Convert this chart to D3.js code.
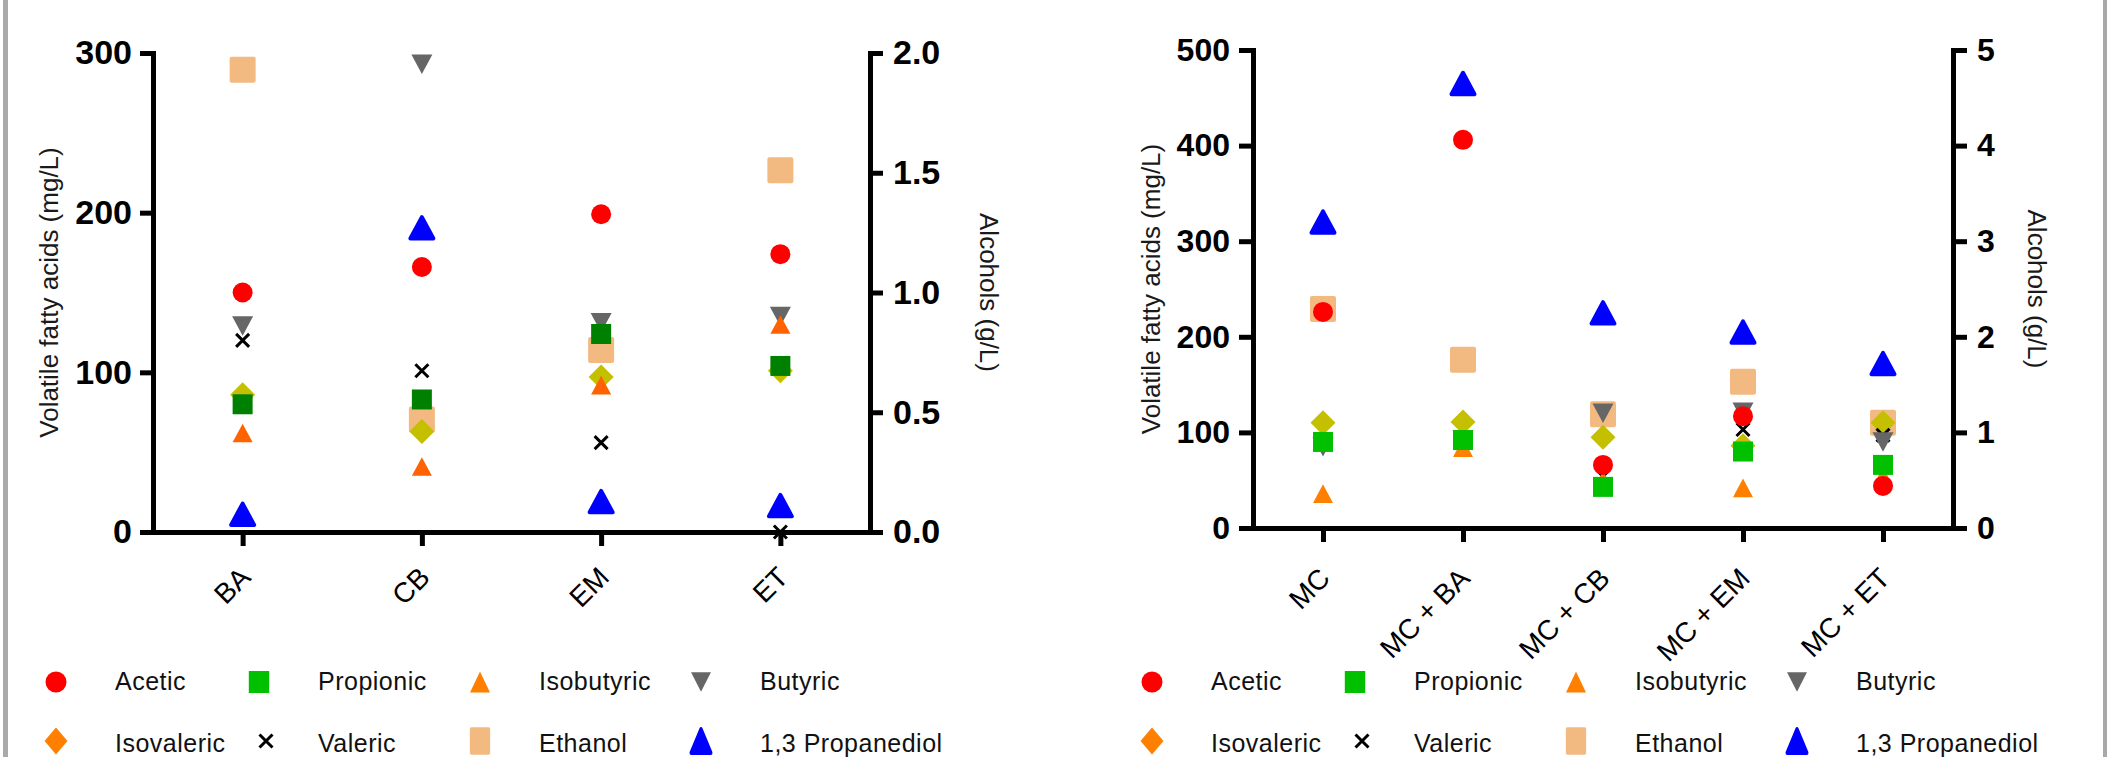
<!DOCTYPE html>
<html>
<head>
<meta charset="utf-8">
<script src="https://cdn.jsdelivr.net/npm/d3@7"></script>
<style>
  body { margin: 0; background: #fff; }
  svg { display: block; font-family: "Liberation Sans", Arial, sans-serif; }
</style>
</head>
<body>
<svg id="chart"></svg>
<script>
const width = 2107;
const height = 757;

// legend order
const seriesNames = ["Acetic", "Propionic", "Isobutyric", "Butyric",
  "Isovaleric", "Valeric", "Ethanol", "1,3 Propanediol"];
// which series go on the right (alcohol) axis
const alcoholSeries = ["Ethanol", "1,3 Propanediol"];
// paint order, bottom to top
const drawOrder = ["Ethanol", "1,3 Propanediol", "Isovaleric", "Valeric",
  "Butyric", "Isobutyric", "Propionic", "Acetic"];

// ---- left panel: single cultures ----
const catsA = ["BA", "CB", "EM", "ET"];
const aceticA = [150, 166, 199, 174];
const propionicA = [80, 83, 124, 104];
const isobutyricA = [62, 41, 92, 130];
const butyricA = [129, 293, 131, 135];
const isovalericA = [86, 63, 97, 101];
const valericA = [120, 101, 56, 0];
const ethanolA = [1.93, 0.47, 0.76, 1.51]; // g/L
const propanediolA = [0.074, 1.27, 0.127, 0.11]; // g/L
const vfaTicksA = [0, 100, 200, 300];
const alcTicksA = [0, 0.5, 1.0, 1.5, 2.0];

// ---- right panel: co-cultures ----
const catsB = ["MC", "MC + BA", "MC + CB", "MC + EM", "MC + ET"];
const aceticB = [226, 406, 66, 117, 44];
const propionicB = [90, 92, 43, 80, 66];
const isobutyricB = [36, 84, 50, 42, 54];
const butyricB = [85, 92, 120, 121, 90];
const isovalericB = [110, 111, 95, 86, 110];
const valericB = [92, 90, 54, 103, 97];
const ethanolB = [2.29, 1.76, 1.19, 1.53, 1.1]; // g/L
const propanediolB = [3.2, 4.65, 2.25, 2.05, 1.72]; // g/L
const vfaTicksB = [0, 100, 200, 300, 400, 500];
const alcTicksB = [0, 1, 2, 3, 4, 5];

const yTitle = "Volatile fatty acids (mg/L)";
const y2Title = "Alcohols (g/L)";

// marker looks
const colorsA = { "Acetic": "#ff0000", "Propionic": "#008000", "Isobutyric": "#ff6200",
  "Butyric": "#666666", "Isovaleric": "#c4c000", "Valeric": "#000000",
  "Ethanol": "#f2b980", "1,3 Propanediol": "#0000ff" };
const colorsB = Object.assign({}, colorsA, { "Propionic": "#00c000", "Isobutyric": "#ff8000" });
const colorsLegend = Object.assign({}, colorsB, { "Isovaleric": "#ff8000" });

const markerStyle = {
  "Acetic": { shape: "circle", size: 20 },
  "Propionic": { shape: "square", size: 20 },
  "Isobutyric": { shape: "triUp", size: 20 },
  "Butyric": { shape: "triDown", size: 21 },
  "Isovaleric": { shape: "diamond", size: 25 },
  "Valeric": { shape: "cross", size: 13 },
  "Ethanol": { shape: "square", size: 22, round: 4 },
  "1,3 Propanediol": { shape: "triUp", size: 23, round: 4 }
};
// legend keys are drawn a little taller than the plotted ones
const legendStretch = {
  "Acetic": [1.05, 1.05], "Propionic": [1.02, 1.1], "Isobutyric": [1, 1.12],
  "Butyric": [0.95, 1.0], "Isovaleric": [0.92, 1.08], "Valeric": [1, 1],
  "Ethanol": [0.78, 1.05], "1,3 Propanediol": [0.85, 1.1]
};

const shapes = {
  circle: { draw(c, s) { c.moveTo(s / 2, 0); c.arc(0, 0, s / 2, 0, 2 * Math.PI); } },
  square: { draw(c, s) { c.rect(-s / 2, -s / 2, s, s); } },
  triUp: { draw(c, s) { const h = s * 0.93; c.moveTo(0, -h / 2); c.lineTo(s / 2, h / 2); c.lineTo(-s / 2, h / 2); c.closePath(); } },
  triDown: { draw(c, s) { const h = s * 0.93; c.moveTo(0, h / 2); c.lineTo(s / 2, -h / 2); c.lineTo(-s / 2, -h / 2); c.closePath(); } },
  diamond: { draw(c, s) { c.moveTo(0, -s / 2); c.lineTo(s / 2, 0); c.lineTo(0, s / 2); c.lineTo(-s / 2, 0); c.closePath(); } },
  cross: { draw(c, s) { c.moveTo(-s / 2, -s / 2); c.lineTo(s / 2, s / 2); c.moveTo(s / 2, -s / 2); c.lineTo(-s / 2, s / 2); } }
};

const svg = d3.select("#chart").attr("width", width).attr("height", height);
svg.append("rect").attr("width", width).attr("height", height).attr("fill", "#fff");
// grey frame edges
svg.append("rect").attr("x", 3).attr("y", 0).attr("width", 5).attr("height", height).attr("fill", "#a9a9a9");
svg.append("rect").attr("x", 2103).attr("y", 0).attr("width", 4).attr("height", height).attr("fill", "#a9a9a9");

const addMarker = (g, name, color, cx, cy, legend) => {
  const st = markerStyle[name];
  const k = legend ? legendStretch[name] : [1, 1];
  const p = g.append("path")
    .attr("d", d3.symbol(shapes[st.shape], st.size)())
    .attr("transform", `translate(${cx},${cy}) scale(${k[0]},${k[1]})`);
  if (st.shape === "cross") {
    p.attr("fill", "none").attr("stroke", color).attr("stroke-width", 3);
  } else {
    p.attr("fill", color);
    if (st.round) p.attr("stroke", color).attr("stroke-width", st.round).attr("stroke-linejoin", "round");
  }
};

const styleAxis = (g, fontSize) => {
  g.select(".domain").attr("stroke", "#000").attr("stroke-width", 5).attr("stroke-linecap", "square");
  g.selectAll(".tick line").attr("stroke", "#000").attr("stroke-width", 5);
  g.selectAll(".tick text").attr("fill", "#000").style("font-size", fontSize + "px")
    .style("font-weight", "bold").style("font-family", "'Liberation Sans', Arial, sans-serif");
};

const drawPanel = (cfg) => {
  const x = d3.scalePoint().domain(cfg.cats).range([cfg.left, cfg.right]).padding(0.5);
  const yV = d3.scaleLinear().domain([0, d3.max(cfg.vTicks)]).range([cfg.bottom, cfg.top]);
  const yA = d3.scaleLinear().domain([0, d3.max(cfg.aTicks)]).range([cfg.bottom, cfg.top]);

  // bottom axis
  const xAxisG = svg.append("g").attr("transform", `translate(0,${cfg.bottom})`)
    .call(d3.axisBottom(x).tickSize(14).tickSizeOuter(0));
  styleAxis(xAxisG, 28);
  xAxisG.selectAll(".tick text")
    .attr("x", 0).attr("y", 0).attr("dy", 0)
    .attr("text-anchor", "end")
    .style("font-weight", "normal")
    .attr("transform", `translate(${cfg.labDx},${cfg.labDy}) rotate(-45)`);

  // left VFA axis
  const yAxisG = svg.append("g").attr("transform", `translate(${cfg.left},0)`)
    .call(d3.axisLeft(yV).tickValues(cfg.vTicks).tickSize(cfg.tickLen).tickSizeOuter(0).tickPadding(cfg.padL));
  styleAxis(yAxisG, cfg.tickFont);

  // right alcohol axis
  const y2AxisG = svg.append("g").attr("transform", `translate(${cfg.right},0)`)
    .call(d3.axisRight(yA).tickValues(cfg.aTicks).tickFormat(cfg.aFmt)
      .tickSize(cfg.tickLen).tickSizeOuter(0).tickPadding(10));
  styleAxis(y2AxisG, cfg.tickFont);

  const midY = (cfg.top + cfg.bottom) / 2;
  svg.append("text")
    .attr("transform", `translate(${cfg.vTitleX},${midY}) rotate(-90)`)
    .attr("text-anchor", "middle").attr("fill", "#1a1a1a")
    .style("font-size", "26px").text(yTitle);
  svg.append("text")
    .attr("transform", `translate(${cfg.aTitleX},${midY}) rotate(90)`)
    .attr("text-anchor", "middle").attr("fill", "#1a1a1a")
    .style("font-size", "26px").text(y2Title);

  // points
  const pts = svg.append("g");
  drawOrder.forEach((name) => {
    const vals = cfg.series[name];
    const sc = alcoholSeries.includes(name) ? yA : yV;
    cfg.cats.forEach((c, i) => {
      addMarker(pts, name, cfg.colors[name], x(c), sc(vals[i]), false);
    });
  });

  // legend
  const cols = [0, 203, 424, 645];
  const rowsY = [682, 741];
  const textY = [690, 752];
  const lg = svg.append("g");
  seriesNames.forEach((name, i) => {
    const col = i % 4, row = Math.floor(i / 4);
    const mx = cfg.legendX + cols[col] + (name === "Valeric" ? 7 : 0);
    addMarker(lg, name, colorsLegend[name], mx, rowsY[row], true);
    lg.append("text")
      .attr("x", cfg.legendX + cols[col] + 59)
      .attr("y", textY[row])
      .attr("fill", "#111")
      .style("font-size", "25px")
      .style("letter-spacing", "0.5px")
      .text(name);
  });
};

drawPanel({
  cats: catsA, left: 153, right: 870, top: 53, bottom: 532,
  vTicks: vfaTicksA, aTicks: alcTicksA, aFmt: d3.format(".1f"),
  tickLen: 13, padL: 8, tickFont: 34,
  labDx: 9, labDy: 47,
  vTitleX: 58, aTitleX: 980,
  colors: colorsA, legendX: 56,
  series: { "Acetic": aceticA, "Propionic": propionicA, "Isobutyric": isobutyricA,
    "Butyric": butyricA, "Isovaleric": isovalericA, "Valeric": valericA,
    "Ethanol": ethanolA, "1,3 Propanediol": propanediolA }
});

drawPanel({
  cats: catsB, left: 1253, right: 1953, top: 50, bottom: 528,
  vTicks: vfaTicksB, aTicks: alcTicksB, aFmt: d3.format("d"),
  tickLen: 14, padL: 9, tickFont: 32,
  labDx: 8, labDy: 52,
  vTitleX: 1160, aTitleX: 2028,
  colors: colorsB, legendX: 1152,
  series: { "Acetic": aceticB, "Propionic": propionicB, "Isobutyric": isobutyricB,
    "Butyric": butyricB, "Isovaleric": isovalericB, "Valeric": valericB,
    "Ethanol": ethanolB, "1,3 Propanediol": propanediolB }
});
</script>
</body>
</html>
